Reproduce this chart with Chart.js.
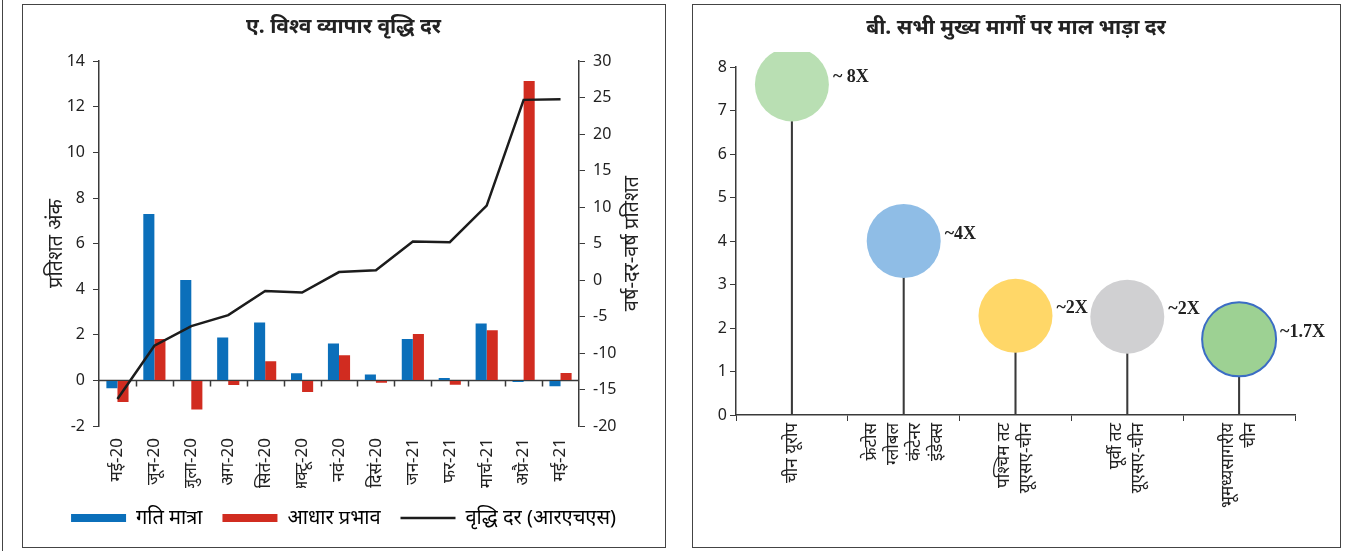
<!DOCTYPE html>
<html>
<head>
<meta charset="utf-8">
<script src="https://cdn.jsdelivr.net/npm/chart.js@4.4.1/dist/chart.umd.min.js"></script>
<style>
html, body { margin: 0; padding: 0; background: #fff; }
body { width: 1345px; height: 551px; position: relative; overflow: hidden; }
.edge { position: absolute; left: 2px; top: 0; width: 0; height: 551px; border-left: 1.5px solid #444; }
.panel { position: absolute; top: 4px; height: 544px; border: 1.5px solid #444; box-sizing: border-box; }
#pA { left: 22px; width: 644px; }
#pB { left: 692px; width: 649px; }
.panel canvas { position: absolute; left: 0; top: 0; }
</style>
</head>
<body>
<div class="edge"></div>
<div class="panel" id="pA"><canvas id="cA" width="641" height="541"></canvas></div>
<div class="panel" id="pB"><canvas id="cB" width="646" height="541"></canvas></div>
<script>
// ---- chart A data
var months = ['मई-20','जून-20','जुला-20','अग-20','सितं-20','अक्टू-20','नवं-20','दिसं-20','जन-21','फर-21','मार्च-21','अप्रै-21','मई-21'];
var momentum   = [-0.34, 7.3, 4.4, 1.88, 2.54, 0.31, 1.62, 0.26, 1.82, 0.1, 2.5, -0.07, -0.26];
var baseEffect = [-0.95, 1.82, -1.28, -0.2, 0.84, -0.51, 1.1, -0.1, 2.04, -0.19, 2.2, 13.13, 0.32];
var growthRate = [-16.3, -9.0, -6.3, -4.8, -1.5, -1.7, 1.1, 1.35, 5.3, 5.2, 10.2, 24.7, 24.8];

// ---- chart B data
var routes = [['चीन यूरोप'], ['फ्रेटोस','ग्लोबल','कंटेनर','इंडेक्स'], ['पश्चिम तट','यूएसए-चीन'], ['पूर्वी तट','यूएसए-चीन'], ['भूमध्यसागरीय','चीन']];
var freightRate = [7.6, 4.0, 2.28, 2.26, 1.74];
var freightNote = ['~ 8X', '~4X', '~2X', '~2X', '~1.7X'];

var FONT = "'Noto Sans', 'DejaVu Sans', sans-serif";
var AXIS = '#3a3a3a';

Chart.defaults.font.family = FONT;
Chart.defaults.color = '#222';

// zero line with category ticks + right axis title
var zeroAxis = {
  id: 'zeroAxis',
  beforeDatasetsDraw: function(chart) {
    var ctx = chart.ctx, x = chart.scales.x, y = chart.scales.y;
    var y0 = y.getPixelForValue(0);
    ctx.save();
    ctx.strokeStyle = AXIS;
    ctx.lineWidth = 1.5;
    ctx.beginPath();
    ctx.moveTo(chart.chartArea.left, y0);
    ctx.lineTo(chart.chartArea.right, y0);
    for (var i = 1; i < months.length; i++) {
      var px = Math.round(x.getPixelForValue(i - 0.5)) + 0.5;
      ctx.moveTo(px, y0);
      ctx.lineTo(px, y0 + 6);
    }
    ctx.stroke();
    ctx.restore();
  },
  afterDraw: function(chart) {
    var ctx = chart.ctx, a = chart.chartArea;
    ctx.save();
    ctx.translate(609, (a.top + a.bottom) / 2);
    ctx.rotate(-Math.PI / 2);
    ctx.font = '20px ' + FONT;
    ctx.fillStyle = '#222';
    ctx.textAlign = 'center';
    ctx.textBaseline = 'middle';
    ctx.fillText('वर्ष-दर-वर्ष प्रतिशत', 0, 0);
    ctx.restore();
  }
};

new Chart(document.getElementById('cA'), {
  type: 'bar',
  data: {
    labels: months,
    datasets: [
      { type: 'line', label: 'वृद्धि दर (आरएचएस)', data: growthRate, yAxisID: 'y1',
        borderColor: '#1c1c1c', borderWidth: 2.5, pointRadius: 0, tension: 0, order: 0 },
      { label: 'गति मात्रा', data: momentum, backgroundColor: '#0b6fba', yAxisID: 'y',
        categoryPercentage: 0.6, barPercentage: 1, order: 1 },
      { label: 'आधार प्रभाव', data: baseEffect, backgroundColor: '#d12c20', yAxisID: 'y',
        categoryPercentage: 0.6, barPercentage: 1, order: 1 }
    ]
  },
  options: {
    responsive: false,
    animation: false,
    layout: { padding: { left: 0, right: 0, top: 0, bottom: 8 } },
    plugins: {
      title: { display: true, text: 'ए. विश्व व्यापार वृद्धि दर', color: '#222',
               font: { size: 21, weight: 'bold' }, padding: { top: 9, bottom: 22 } },
      legend: {
        position: 'bottom',
        labels: {
          usePointStyle: true, pointStyleWidth: 55, boxHeight: 8, padding: 20,
          font: { size: 20 }, color: '#222',
          generateLabels: function(chart) {
            var order = [1, 2, 0];
            return order.map(function(i) {
              var ds = chart.data.datasets[i];
              var isLine = ds.type === 'line';
              return { text: ds.label, datasetIndex: i, hidden: false,
                       fillStyle: isLine ? ds.borderColor : ds.backgroundColor,
                       strokeStyle: isLine ? ds.borderColor : ds.backgroundColor,
                       lineWidth: isLine ? 2.5 : 0, pointStyle: isLine ? 'line' : 'rect' };
            });
          }
        }
      },
      tooltip: { enabled: false }
    },
    scales: {
      x: {
        grid: { display: false }, border: { display: false },
        ticks: { minRotation: 90, maxRotation: 90, padding: 4, font: { size: 17 }, color: '#222' },
        afterFit: function(s) { s.height = 62; }
      },
      y: {
        position: 'left', min: -2, max: 14,
        ticks: { stepSize: 2, padding: 8, font: { size: 16 }, color: '#222' },
        grid: { drawOnChartArea: false, tickLength: 6, color: AXIS },
        border: { color: AXIS, width: 1.5 },
        title: { display: true, text: 'प्रतिशत अंक', font: { size: 20 }, color: '#222', padding: { top: 21, bottom: 0 } },
        afterFit: function(s) { s.width = 76; }
      },
      y1: {
        position: 'right', min: -20, max: 30,
        ticks: { stepSize: 5, padding: 8, font: { size: 16 }, color: '#222' },
        grid: { drawOnChartArea: false, tickLength: 6, color: AXIS },
        border: { color: AXIS, width: 1.5 },
        afterFit: function(s) { s.width = 85; }
      }
    }
  },
  plugins: [zeroAxis]
});

// title, route labels and value notes for chart B
var freightText = {
  id: 'freightText',
  afterDraw: function(chart) {
    var ctx = chart.ctx, x = chart.scales.x, a = chart.chartArea;
    ctx.save();
    ctx.fillStyle = '#222';
    ctx.font = 'bold 21px ' + FONT;
    ctx.textAlign = 'center';
    ctx.textBaseline = 'middle';
    ctx.fillText('बी. सभी मुख्य मार्गों पर माल भाड़ा दर', chart.width / 2, 23);

    ctx.font = '17px ' + FONT;
    ctx.textAlign = 'right';
    var lh = 22;
    routes.forEach(function(lines, i) {
      var cx = x.getPixelForValue(i);
      lines.forEach(function(t, k) {
        ctx.save();
        ctx.translate(cx + (k - (lines.length - 1) / 2) * lh, a.bottom + 8);
        ctx.rotate(-Math.PI / 2);
        ctx.fillText(t, 0, 0);
        ctx.restore();
      });
    });

    var meta = chart.getDatasetMeta(1);
    ctx.font = 'bold 18px "Liberation Serif", serif';
    ctx.textAlign = 'left';
    meta.data.forEach(function(pt, i) {
      ctx.fillText(freightNote[i], pt.x + 41, pt.y - 7);
    });
    ctx.restore();
  }
};

new Chart(document.getElementById('cB'), {
  type: 'bar',
  data: {
    labels: routes.map(function(r) { return r.join(' '); }),
    datasets: [
      { label: 'stem', data: freightRate, backgroundColor: '#3a3a3a', barThickness: 1.4, order: 2 },
      { type: 'line', label: 'rate', data: freightRate, showLine: false, order: 1,
        pointRadius: 37, pointHoverRadius: 37,
        pointBackgroundColor: ['#b9dfb3', '#8fbde6', '#ffd768', '#d0d0d2', '#9dd193'],
        pointBorderColor: ['#b9dfb3', '#8fbde6', '#ffd768', '#d0d0d2', '#3b6dc4'],
        pointBorderWidth: [0, 0, 0, 0, 2],
        clip: { left: 60, top: 15, right: 60, bottom: 60 } }
    ]
  },
  options: {
    responsive: false,
    animation: false,
    layout: { padding: { left: 0, right: 44, top: 62, bottom: 0 } },
    plugins: {
      title: { display: false },
      legend: { display: false },
      tooltip: { enabled: false }
    },
    scales: {
      x: {
        grid: { drawOnChartArea: false, tickLength: 6, color: AXIS },
        border: { color: AXIS, width: 1.5 },
        ticks: { display: false },
        afterFit: function(s) { s.height = 131; }
      },
      y: {
        min: 0, max: 8,
        ticks: { stepSize: 1, padding: 3, font: { size: 16 }, color: '#222' },
        grid: { drawOnChartArea: false, tickLength: 6, color: AXIS },
        border: { color: AXIS, width: 1.5 },
        afterFit: function(s) { s.width = 43; }
      }
    }
  },
  plugins: [freightText]
});
</script>
</body>
</html>
